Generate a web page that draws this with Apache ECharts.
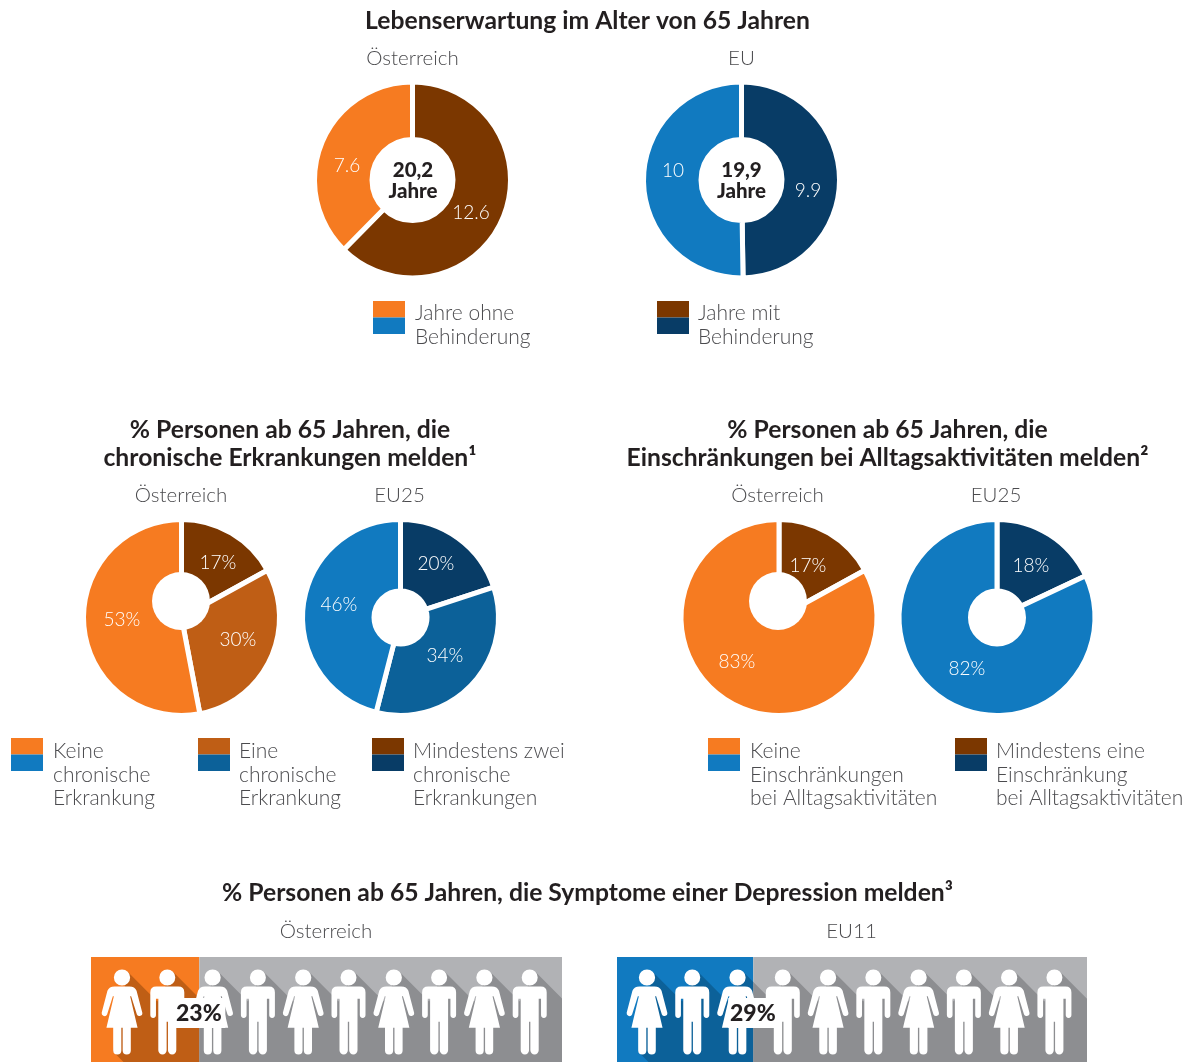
<!DOCTYPE html>
<html><head><meta charset="utf-8">
<style>html,body{margin:0;padding:0;background:#fff}#c{width:1197px;height:1062px}</style>
<script src="https://cdn.jsdelivr.net/npm/echarts@6/dist/echarts.min.js"></script>
</head><body><div id="c"></div>
<script>
// ---- data ----
const lifeAT = [12.6, 7.6];
const lifeEU = [9.9, 10];
const lifeATCentre = '20,2\nJahre';
const lifeEUCentre = '19,9\nJahre';
const chronicAT = [17, 30, 53];
const chronicEU = [20, 34, 46];
const limitAT = [17, 83];
const limitEU = [18, 82];
const depressionAT = [23, 77];
const depressionEU = [29, 71];
const figureKinds = ['Frau','Mann','Frau','Mann','Frau','Mann','Frau','Mann','Frau','Mann'];

// ---- colours ----
const ORANGE=['#f67b21','#bf5e15','#7b3700'], BLUE=['#117ac0','#0c6199','#083c66'];
const GREY='#b1b2b5', GREYD='#8d8e91', INK='#231f20', BODY='#4b4b4e';
const BOLD='"Lato"', LIGHT='"Lato"';

const MAN='path://M-24,24A24,24 0 1 1 24,24A24,24 0 1 1 -24,24ZM-33,51L33,51Q51,51 51,69L51,137A8.5,8.5 0 0 1 34,137L34,88L29,88L29,88L27,88L27,243A12.5,12.5 0 0 1 2,243L2,157L-2,157L-2,243A12.5,12.5 0 0 1 -27,243L-27,88L-34,88L-34,137A8.5,8.5 0 0 1 -51,137L-51,69Q-51,51 -33,51Z';
const WOMAN='path://M-24,24A24,24 0 1 1 24,24A24,24 0 1 1 -24,24ZM-22,51L22,51Q38,51 43,64L60,130A8.5,8.5 0 0 1 44,135L27,80L24,80L46,175L26,175L26,243A12,12 0 0 1 2,243L2,175L-2,175L-2,243A12,12 0 0 1 -26,243L-26,175L-46,175L-24,80L-27,80L-44,135A8.5,8.5 0 0 1 -60,130L-43,64Q-38,51 -22,51Z';

// ---- pies ----
function pie(values, cx, cy, r, r0, colors, fmt, labelPos){
  return {type:'pie', center:[cx,cy], radius:[r0,r+2.5], startAngle:90, clockwise:true, silent:true,
    animation:false, labelLine:{show:false},
    data:values.map((v,i)=>({value:v,itemStyle:{color:colors[i]}})),
    itemStyle:{borderColor:'#fff',borderWidth:5},
    label:{show:true,position:'inside',formatter:fmt,color:'#fff',fontFamily:LIGHT,fontWeight:300,fontSize:19},
    labelLayout:p=>({x:labelPos[p.dataIndex][0],y:labelPos[p.dataIndex][1],align:'center',verticalAlign:'middle',moveOverlap:false})
  };
}
const seriesList=[
  pie(lifeAT,412.5,180,95.5,40.5,[ORANGE[2],ORANGE[0]],'{c}',[[471,213],[347,166]]),
  pie(lifeEU,741.5,180,95.5,40.5,[BLUE[2],BLUE[0]],'{c}',[[808,191],[673,171]]),
  pie(chronicAT,181.5,617.5,95.5,0,[ORANGE[2],ORANGE[1],ORANGE[0]],'{c}%',[[218,563],[238,640],[122,620]]),
  pie(chronicEU,400.5,617.5,95.5,26.5,[BLUE[2],BLUE[1],BLUE[0]],'{c}%',[[436,564],[445,656],[339,605]]),
  pie(limitAT,779,617.5,95.5,0,[ORANGE[2],ORANGE[0]],'{c}%',[[808,566],[737,662]]),
  pie(limitEU,997,617.5,95.5,26.5,[BLUE[2],BLUE[0]],'{c}%',[[1031,566],[967,669]])
];

// ---- pictogram panels ----
const grids=[],xAxes=[],yAxes=[];
function clipX(pts,x,keepLeft){
  const inside=p=>keepLeft?p[0]<=x:p[0]>=x, out=[];
  pts.forEach((a,i)=>{const b=pts[(i+1)%pts.length];
    if(inside(a))out.push(a);
    if(inside(a)!==inside(b)){const t=(x-a[0])/(b[0]-a[0]);out.push([x,a[1]+t*(b[1]-a[1])]);}
  });
  return out;
}
function panel(values,bandLeft,bandWidth,figLeft,figWidth,colors,labelBox){
  const top=957,h=105,gi=grids.length;
  grids.push({left:bandLeft,top,width:bandWidth,height:h});
  grids.push({left:figLeft,top,width:figWidth,height:h});
  xAxes.push({gridIndex:gi,type:'value',min:0,max:100,show:false});
  yAxes.push({gridIndex:gi,type:'category',data:[''],show:false});
  xAxes.push({gridIndex:gi+1,type:'category',data:figureKinds.map((k,i)=>k+(i+1)),show:false,boundaryGap:true});
  yAxes.push({gridIndex:gi+1,type:'value',min:0,max:1,show:false});
  [colors,GREY].forEach((c,i)=>seriesList.push({type:'bar',xAxisIndex:gi,yAxisIndex:gi,stack:'s'+gi,barWidth:'100%',silent:true,animation:false,z:1,
    data:[values[i]],itemStyle:{color:i?GREY:colors}}));
  // long shadow behind the figures
  seriesList.push({type:'custom',xAxisIndex:gi+1,yAxisIndex:gi+1,z:2,silent:true,animation:false,clip:false,data:[[0,0.5]],
    renderItem(params,api){
      const cs=figureKinds.map((k,i)=>api.coord([i,0.5])[0]);
      const midY=api.coord([0,0.5])[1], headY=midY-32, r=8*0.707, bottom=top+h, right=bandLeft+bandWidth;
      const pts=[[cs[0]-9,midY+42]];
      cs.forEach((cx,i)=>{
        const tx=cx+r,ty=headY-r; pts.push([tx,ty]);
        if(i<cs.length-1){const ex=cs[i+1]-10;pts.push([ex,ty+ex-tx]);}
        else pts.push([right,ty+right-tx]);
      });
      pts.push([right,bottom],[cs[0]-9+bottom-midY-42,bottom]);
      const split=bandLeft+bandWidth*values[0]/100;
      return {type:'group',children:[
        {type:'polygon',shape:{points:clipX(pts,split,true)},style:{fill:colors==ORANGE[0]?ORANGE[1]:BLUE[1]}},
        {type:'polygon',shape:{points:clipX(pts,split,false)},style:{fill:GREYD}}
      ]};
    }});
  seriesList.push({type:'scatter',xAxisIndex:gi+1,yAxisIndex:gi+1,z:3,silent:true,animation:false,clip:false,
    symbolOffset:[0,2.5],itemStyle:{color:'#fff',opacity:1},
    data:figureKinds.map((k,i)=>({value:[i,0.5],symbol:k==='Frau'?WOMAN:MAN,symbolSize:k==='Frau'?[40.7,85]:[34,85]}))});
  // percentage tag
  seriesList.push({type:'custom',xAxisIndex:gi,yAxisIndex:gi,z:4,silent:true,animation:false,clip:false,data:[[values[0],0]],
    renderItem(params,api){
      const p=api.coord([api.value(0),0]);
      return {type:'group',children:[
        {type:'rect',shape:{x:p[0]+labelBox[0],y:p[1]-11.5,width:labelBox[1],height:30},style:{fill:'#fff'}},
        {type:'text',x:p[0]+labelBox[2],y:p[1]+4,style:{text:api.value(0)+'%',fill:INK,fontFamily:BOLD,fontWeight:900,fontSize:23,align:'center',verticalAlign:'middle'}}
      ]};
    }});
}
panel(depressionAT,91,471,99.35,453,ORANGE[0],[-24,50,-0.5]);
panel(depressionEU,617,470,624.35,452.7,BLUE[0],[-25,50,-0.5]);

// ---- text + legends ----
const g=[];
function txt(t,x,y,o){g.push({type:'text',x,y,z:20,silent:true,style:Object.assign({text:t,fill:BODY,fontFamily:LIGHT,fontWeight:300,fontSize:21,align:'center',verticalAlign:'middle'},o||{})});}
function title(t,x,y){txt(t,x,y,{fill:INK,fontFamily:BOLD,fontWeight:700,fontSize:24.7,lineHeight:28});}
title('Lebenserwartung im Alter von 65 Jahren',587.5,21);
title('% Personen ab 65 Jahren, die\nchronische Erkrankungen melden¹',290,444.5);
title('% Personen ab 65 Jahren, die\nEinschränkungen bei Alltagsaktivitäten melden²',887.5,444.5);
title('% Personen ab 65 Jahren, die Symptome einer Depression melden³',587.5,893.5);
[['Österreich',412.5,58.5],['EU',741.5,58.5],['Österreich',181,495.5],['EU25',399.5,495.5],['Österreich',777.5,495.5],['EU25',996,495.5],['Österreich',326,931.5],['EU11',851.5,931.5]].forEach(a=>txt(a[0],a[1],a[2],{fontSize:20.5}));
txt(lifeATCentre,413,180.5,{fill:INK,fontFamily:BOLD,fontWeight:900,fontSize:20.5,lineHeight:21});
txt(lifeEUCentre,741.5,180.5,{fill:INK,fontFamily:BOLD,fontWeight:900,fontSize:20.5,lineHeight:21});
g.push({type:'circle',z:10,silent:true,shape:{cx:181,cy:601,r:29},style:{fill:'#fff'}});
g.push({type:'circle',z:10,silent:true,shape:{cx:778,cy:601,r:29},style:{fill:'#fff'}});
function legend(x,y,c1,c2,tx,t,ty){
  g.push({type:'rect',z:15,silent:true,shape:{x,y,width:32,height:16.5},style:{fill:c1}});
  g.push({type:'rect',z:15,silent:true,shape:{x,y:y+16.5,width:32,height:16.5},style:{fill:c2}});
  txt(t,tx,ty,{align:'left',verticalAlign:'top',lineHeight:23.3});
}
legend(373,301,ORANGE[0],BLUE[0],415,'Jahre ohne\nBehinderung',302);
legend(657,301,ORANGE[2],BLUE[2],698,'Jahre mit\nBehinderung',302);
legend(11,738,ORANGE[0],BLUE[0],53,'Keine\nchronische\nErkrankung',740);
legend(198,738,ORANGE[1],BLUE[1],239,'Eine\nchronische\nErkrankung',740);
legend(372,738,ORANGE[2],BLUE[2],413,'Mindestens zwei\nchronische\nErkrankungen',740);
legend(708,738,ORANGE[0],BLUE[0],750,'Keine\nEinschränkungen\nbei Alltagsaktivitäten',740);
legend(955,738,ORANGE[2],BLUE[2],996,'Mindestens eine\nEinschränkung\nbei Alltagsaktivitäten',740);

const chart=echarts.init(document.getElementById('c'),null,{renderer:'canvas'});
chart.setOption({animation:false,backgroundColor:'#fff',grid:grids,xAxis:xAxes,yAxis:yAxes,series:seriesList,graphic:{elements:g}});
</script></body></html>
